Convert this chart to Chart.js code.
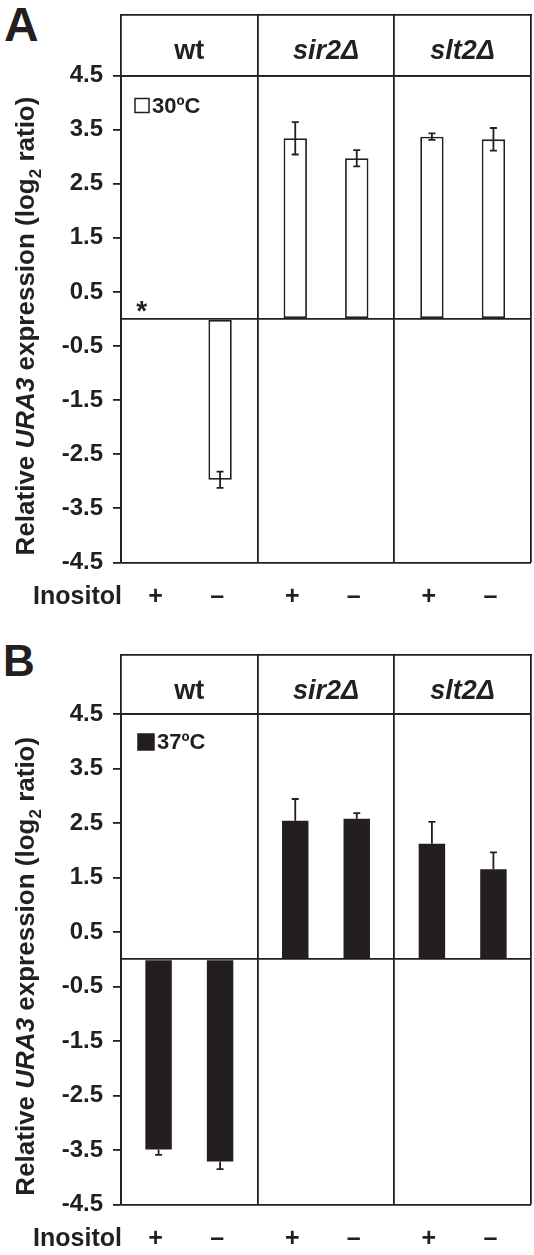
<!DOCTYPE html>
<html>
<head>
<meta charset="utf-8">
<script src="https://cdn.jsdelivr.net/npm/chart.js@4.4.1/dist/chart.umd.min.js"></script>
<style>
    html, body { margin: 0; padding: 0; background: #fff; }
    body { width: 534px; height: 1255px; position: relative; overflow: hidden; font-family: "Liberation Sans", Arial, sans-serif; }
    canvas { position: absolute; left: 0; }
    #chartA { top: 0; }
    #chartB { top: 639px; }
    .letter { position: absolute; font-weight: bold; color: #231f20; line-height: 1; }
</style>
</head>
<body>
<div class="letter" style="left:4px; top:1px; font-size:48px;">A</div>
<div class="letter" style="left:3px; top:639px; font-size:44px;">B</div>
<canvas id="chartA" width="534" height="639"></canvas>
<canvas id="chartB" width="534" height="616"></canvas>
<script>
(function () {

    // ─────────────────────────────────────────────
    // DATA
    // ─────────────────────────────────────────────
    const groups = ['wt', 'sir2Δ', 'slt2Δ'];
    const inositol = ['+', '–'];
    const yTicks = [-4.5, -3.5, -2.5, -1.5, -0.5, 0, 0.5, 1.5, 2.5, 3.5, 4.5];

    // 30ºC
    const plus30 = [0, 3.34, 3.37];
    const minus30 = [-2.97, 2.97, 3.32];
    const plus30Err = [0, 0.30, 0.06];
    const minus30Err = [0.15, 0.15, 0.21];
    const notes30 = ['*', '', ''];

    // 37ºC
    const plus37 = [-3.49, 2.54, 2.12];
    const minus37 = [-3.71, 2.58, 1.65];
    const plus37Err = [0.10, 0.40, 0.40];
    const minus37Err = [0.14, 0.10, 0.31];

    const INK = '#231f20';
    const LINE = 1.8;
    const FONT = '"Liberation Sans", Arial, Helvetica, sans-serif';
    Chart.defaults.font.family = FONT;
    Chart.defaults.color = INK;


    // ─────────────────────────────────────────────
    // ERROR BARS
    // ─────────────────────────────────────────────
    const errorBars = {
        id: 'errorBars',
        afterDatasetsDraw(chart, args, opts) {
            const { ctx } = chart;
            const y = chart.scales.y;
            ctx.save();
            ctx.strokeStyle = INK;
            ctx.lineWidth = LINE;
            chart.data.datasets.forEach((ds, i) => {
                chart.getDatasetMeta(i).data.forEach((bar, j) => {
                    const v = ds.data[j];
                    const e = ds.errors[j];
                    if (!e) return;
                    const hi = y.getPixelForValue(v + e);
                    const lo = y.getPixelForValue(v - e);
                    const cap = opts.cap;
                    let y1, y2, caps;
                    if (opts.oneSided) {
                        y1 = bar.y;
                        y2 = v >= 0 ? hi : lo;
                        caps = [y2];
                    } else {
                        y1 = hi;
                        y2 = lo;
                        caps = [hi, lo];
                    }
                    ctx.beginPath();
                    ctx.moveTo(bar.x, y1);
                    ctx.lineTo(bar.x, y2);
                    caps.forEach(c => {
                        ctx.moveTo(bar.x - cap, c);
                        ctx.lineTo(bar.x + cap, c);
                    });
                    ctx.stroke();
                });
            });
            ctx.restore();
        }
    };


    // ─────────────────────────────────────────────
    // HEADER LINE, LEGEND, NOTES, INOSITOL ROW, Y TITLE
    // ─────────────────────────────────────────────
    const decor = {
        id: 'decor',
        afterDraw(chart, args, opts) {
            const { ctx, chartArea } = chart;
            const x = chart.scales.x;
            const y = chart.scales.y;
            ctx.save();

            // header top border
            ctx.strokeStyle = INK;
            ctx.lineWidth = LINE;
            ctx.beginPath();
            ctx.moveTo(chartArea.left - 0.9, x.top + 0.9);
            ctx.lineTo(chartArea.right + 0.9, x.top + 0.9);
            ctx.stroke();

            // legend box
            const lg = opts.legend;
            const lx = chartArea.left + lg.dx;
            const ly = chartArea.top + lg.dy;
            ctx.fillStyle = lg.fill;
            ctx.fillRect(lx, ly, lg.size, lg.size);
            ctx.lineWidth = 1.5;
            ctx.strokeRect(lx, ly, lg.size, lg.size);
            ctx.fillStyle = INK;
            ctx.font = 'bold 22px ' + FONT;
            ctx.textAlign = 'left';
            ctx.textBaseline = 'middle';
            ctx.fillText(lg.label, lx + lg.size + 3, ly + lg.size / 2 + 1);

            // notes above bars (asterisk)
            if (opts.notes) {
                const meta = chart.getDatasetMeta(0);
                ctx.font = 'bold 28px ' + FONT;
                ctx.textAlign = 'center';
                ctx.textBaseline = 'alphabetic';
                opts.notes.forEach((n, j) => {
                    if (!n) return;
                    ctx.fillText(n, meta.data[j].x - 17, y.getPixelForValue(0) + 1);
                });
            }

            // Inositol row
            const rowY = chartArea.bottom + 35;
            ctx.font = 'bold 25px ' + FONT;
            ctx.textBaseline = 'middle';
            ctx.textAlign = 'right';
            ctx.fillText('Inositol', chartArea.left + 1, rowY);
            ctx.textAlign = 'center';
            chart.data.datasets.forEach((ds, i) => {
                chart.getDatasetMeta(i).data.forEach(bar => {
                    ctx.fillText(inositol[i], bar.x - 3, rowY);
                });
            });

            // y title with italic gene name and subscript
            const parts = [
                ['Relative ', 'bold 26px '],
                ['URA3', 'italic bold 26px '],
                [' expression (log', 'bold 26px '],
                ['2', 'bold 17px ', 7],
                [' ratio)', 'bold 26px ']
            ];
            let total = 0;
            parts.forEach(p => { ctx.font = p[1] + FONT; total += ctx.measureText(p[0]).width; });
            ctx.translate(opts.titleX, (chartArea.top + chartArea.bottom) / 2 + 7);
            ctx.rotate(-Math.PI / 2);
            ctx.textAlign = 'left';
            ctx.textBaseline = 'alphabetic';
            let u = -total / 2;
            parts.forEach(p => {
                ctx.font = p[1] + FONT;
                ctx.fillText(p[0], u, p[2] || 0);
                u += ctx.measureText(p[0]).width;
            });

            ctx.restore();
        }
    };


    // ─────────────────────────────────────────────
    // PANEL FACTORY
    // ─────────────────────────────────────────────
    function createPanel(id, p) {
        const el = document.getElementById(id);
        if (!el) return;

        const barStyle = {
            backgroundColor: p.fill,
            borderColor: INK,
            borderWidth: p.fill === '#ffffff' ? LINE : 0,
            borderSkipped: false,
            categoryPercentage: 0.9,
            barPercentage: p.barPct
        };

        new Chart(el.getContext('2d'), {
            type: 'bar',
            data: {
                labels: groups,
                datasets: [
                    Object.assign({ label: inositol[0], data: p.plus, errors: p.plusErr }, barStyle),
                    Object.assign({ label: inositol[1], data: p.minus, errors: p.minusErr }, barStyle)
                ]
            },
            options: {
                responsive: false,
                animation: false,
                layout: { padding: { left: 0, right: 3, top: p.top, bottom: p.bottom } },
                plugins: {
                    legend: { display: false },
                    tooltip: { enabled: false },
                    errorBars: { oneSided: p.oneSided, cap: p.cap },
                    decor: {
                        legend: p.legend,
                        notes: p.notes,
                        titleX: 34
                    }
                },
                scales: {
                    x: {
                        position: 'top',
                        offset: true,
                        grid: {
                            offset: true,
                            color: INK,
                            lineWidth: LINE,
                            tickLength: p.header,
                            tickColor: INK
                        },
                        border: { color: INK, width: LINE },
                        ticks: {
                            color: INK,
                            padding: -54,
                            maxRotation: 0,
                            font: ctx => ({
                                size: 27,
                                weight: 'bold',
                                style: ctx.index === 0 ? 'normal' : 'italic'
                            })
                        },
                        afterFit: s => { s.height = p.header; }
                    },
                    y: {
                        min: -4.5,
                        max: 4.5,
                        afterBuildTicks: s => { s.ticks = yTicks.map(v => ({ value: v })); },
                        ticks: {
                            color: INK,
                            padding: 10,
                            autoSkip: false,
                            font: { size: 24, weight: 'bold' },
                            callback: v => (v === 0 ? '' : v.toFixed(1))
                        },
                        grid: {
                            lineWidth: LINE,
                            tickLength: 8,
                            color: ctx => ([4.5, 0, -4.5].includes(ctx.tick.value) ? INK : 'rgba(0,0,0,0)'),
                            tickColor: ctx => (ctx.tick.value === 0 ? 'rgba(0,0,0,0)' : INK)
                        },
                        border: { color: INK, width: LINE },
                        afterFit: s => { s.width = 121; }
                    }
                }
            },
            plugins: [errorBars, decor]
        });
    }


    // ─────────────────────────────────────────────
    // PANEL A – 30ºC
    // ─────────────────────────────────────────────
    createPanel('chartA', {
        plus: plus30, minus: minus30,
        plusErr: plus30Err, minusErr: minus30Err,
        notes: notes30,
        fill: '#ffffff',
        barPct: 0.38,
        oneSided: false,
        cap: 3.5,
        top: 14, header: 61.5, bottom: 76.5,
        legend: { label: '30ºC', fill: '#ffffff', size: 14, dx: 14, dy: 23 }
    });


    // ─────────────────────────────────────────────
    // PANEL B – 37ºC
    // ─────────────────────────────────────────────
    createPanel('chartB', {
        plus: plus37, minus: minus37,
        plusErr: plus37Err, minusErr: minus37Err,
        notes: null,
        fill: INK,
        barPct: 0.43,
        oneSided: true,
        cap: 3.5,
        top: 15, header: 60, bottom: 50.5,
        legend: { label: '37ºC', fill: INK, size: 16, dx: 17, dy: 20 }
    });

})();
</script>
</body>
</html>
